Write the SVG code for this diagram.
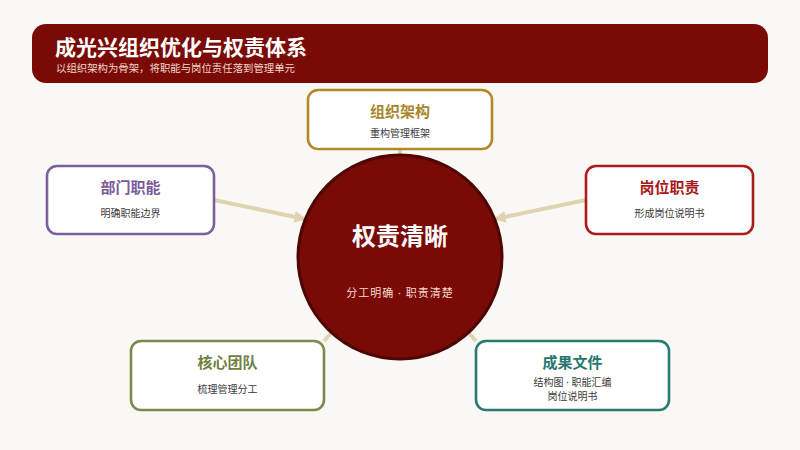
<svg xmlns="http://www.w3.org/2000/svg" width="800" height="450" viewBox="0 0 800 450">
<style>
text{font-family:"Noto Sans","Noto Sans CJK SC",sans-serif;text-anchor:middle}
.box{fill:#ffffff;stroke-width:2.6}
.t{font-size:15px;font-weight:700}
.s{font-size:10px;fill:#3a3a3a}
.conn{stroke:#ddd5b0;stroke-width:4;fill:none}
</style>
<defs>
<marker id="arr" viewBox="0 0 10 10" refX="9" refY="5" markerWidth="3" markerHeight="3" orient="auto" markerUnits="strokeWidth">
<path d="M0,0 L10,5 L0,10 Z" fill="#ddd5b0"/>
</marker>
</defs>
<rect width="800" height="450" fill="#faf8f4"/>
<g id="header">
<rect x="32" y="24" width="736" height="59" rx="14" fill="#7a0a05"/>
<text x="55" y="55" style="text-anchor:start;font-size:21px;font-weight:700" fill="#ffffff">成光兴组织优化与权责体系</text>
<text x="56" y="72" style="text-anchor:start;font-size:10.4px;font-family:'Noto Sans CJK SC',sans-serif" fill="#f1d6cc">以组织架构为骨架，将职能与岗位责任落到管理单元</text>
</g>
<g id="connectors">
<line class="conn" x1="400" y1="149" x2="400" y2="156"/>
<line class="conn" x1="214" y1="200" x2="305" y2="219" marker-end="url(#arr)"/>
<line class="conn" x1="586" y1="200" x2="495" y2="219" marker-end="url(#arr)"/>
<line class="conn" x1="324" y1="341" x2="332" y2="332"/>
<line class="conn" x1="476" y1="341" x2="468" y2="332"/>
</g>
<g id="center">
<circle cx="400" cy="257" r="102" fill="#7a0a05" stroke="#4d0604" stroke-width="3"/>
<text x="400" y="245" style="font-size:24px;font-weight:700" fill="#ffffff">权责清晰</text>
<text x="400" y="297" style="font-size:11px;letter-spacing:1px" fill="#f3d9d0">分工明确 · 职责清楚</text>
</g>
<g id="org">
<rect class="box" x="308" y="90" width="184" height="59" rx="10" stroke="#b08a2a"/>
<text class="t" x="400" y="117" fill="#a8862a">组织架构</text>
<text class="s" x="400" y="136.5">重构管理框架</text>
</g>
<g id="dept">
<rect class="box" x="47" y="166" width="167" height="68" rx="10" stroke="#7a60a0"/>
<text class="t" x="130.5" y="193" fill="#7a5a9a">部门职能</text>
<text class="s" x="130.5" y="216.5">明确职能边界</text>
</g>
<g id="post">
<rect class="box" x="586" y="166" width="167" height="68" rx="10" stroke="#aa1c1c"/>
<text class="t" x="669.5" y="193" fill="#a81818">岗位职责</text>
<text class="s" x="669.5" y="216.5">形成岗位说明书</text>
</g>
<g id="team">
<rect class="box" x="131" y="341" width="193" height="69" rx="10" stroke="#7a8a4a"/>
<text class="t" x="227.5" y="368" fill="#6f8040">核心团队</text>
<text class="s" x="227.5" y="392.5">梳理管理分工</text>
</g>
<g id="docs">
<rect class="box" x="476" y="341" width="193" height="69" rx="10" stroke="#2a7a72"/>
<text class="t" x="572.5" y="368" fill="#27766e">成果文件</text>
<text class="s" x="572.5" y="385.5">结构图 · 职能汇编</text>
<text class="s" x="572.5" y="399.5">岗位说明书</text>
</g>
</svg>
